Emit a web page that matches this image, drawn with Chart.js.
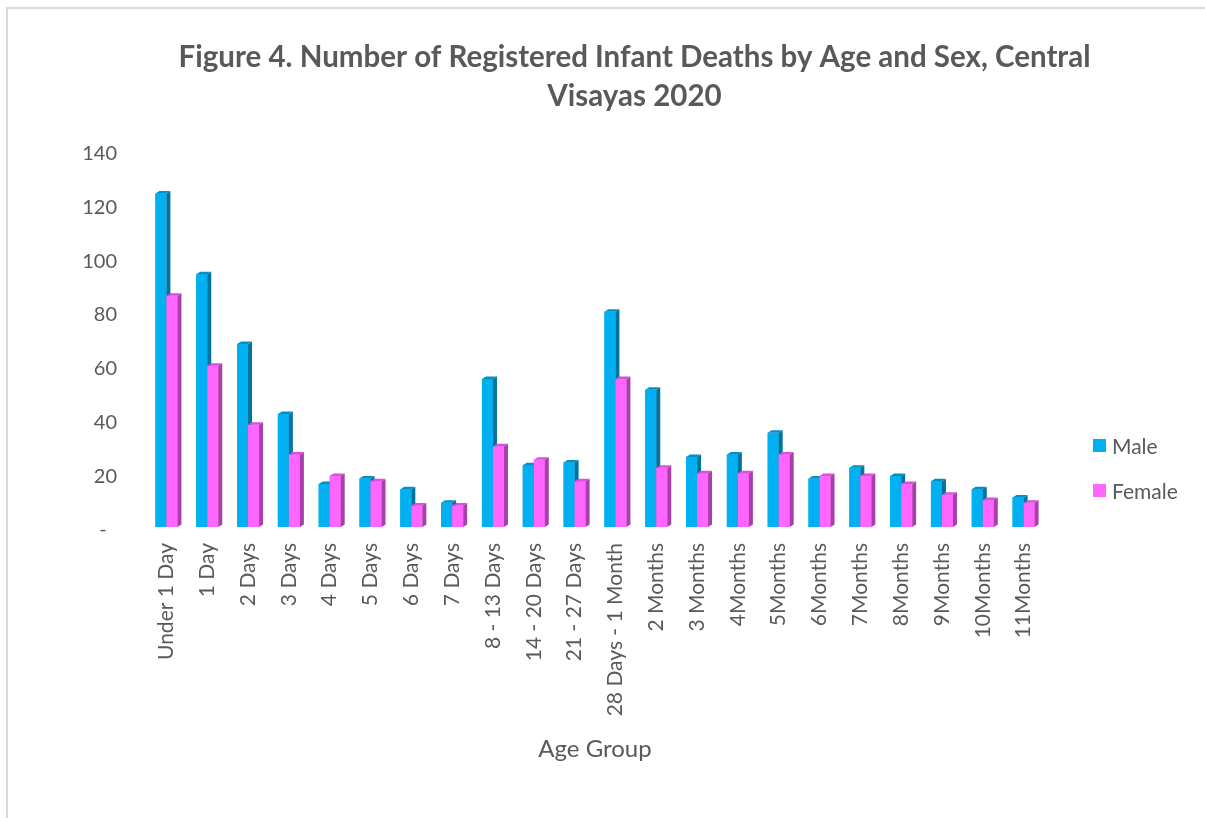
<!DOCTYPE html>
<html>
<head>
<meta charset="utf-8">
<script src="https://cdn.jsdelivr.net/npm/chart.js@4/dist/chart.umd.min.js"></script>
<style>
  html, body { margin: 0; padding: 0; background: #ffffff; overflow: hidden; }
  #frame { position: absolute; left: 6px; top: 7px; width: 1400px; height: 1000px;
           border-left: 2px solid #d9d9d9; border-top: 2px solid #d9d9d9; }
  #wrap { position: absolute; left: 0; top: 0; width: 1205px; height: 818px; }
  #legend { position: absolute; left: 1093px; top: 433px; font-family: Lato, "Open Sans", sans-serif;
            font-size: 21px; color: #595959; }
  #legend .item { display: flex; align-items: center; height: 24px; margin-bottom: 21px; }
  #legend .box { width: 13px; height: 13px; margin-right: 6px; }
</style>
</head>
<body>
<div id="frame"></div>
<div id="wrap"><canvas id="c" width="1205" height="818"></canvas></div>
<div id="legend"></div>
<script>
const titleLines = ["Figure 4. Number of Registered Infant Deaths by Age and Sex, Central", "Visayas 2020"];
const categories = ["Under 1 Day", "1 Day", "2 Days", "3 Days", "4 Days", "5 Days", "6 Days", "7 Days",
  "8 - 13 Days", "14 - 20 Days", "21 - 27 Days", "28 Days - 1 Month", "2 Months", "3 Months",
  "4Months", "5Months", "6Months", "7Months", "8Months", "9Months", "10Months", "11Months"];
const maleValues   = [124, 94, 68, 42, 16, 18, 14, 9, 55, 23, 24, 80, 51, 26, 27, 35, 18, 22, 19, 17, 14, 11];
const femaleValues = [86, 60, 38, 27, 19, 17, 8, 8, 30, 25, 17, 55, 22, 20, 20, 27, 19, 19, 16, 12, 10, 9];
const yTicks = [0, 20, 40, 60, 80, 100, 120, 140];
const seriesNames = ["Male", "Female"];
const seriesColors = ["#00B0F0", "#FF66FF"];
const sideColors = ["#00739E", "#A83FAB"];
const topColors = ["#0090C4", "#D94FDC"];
const xTitle = "Age Group";

const textColor = "#595959";
const fontFam = "Lato, 'Open Sans', sans-serif";

const bar3d = {
  id: 'bar3d',
  afterDatasetsDraw(chart) {
    const ctx = chart.ctx;
    const d = 4, h = 2.5;
    ctx.save();
    chart.data.datasets.forEach((ds, idx) => {
      const meta = chart.getDatasetMeta(idx);
      meta.data.forEach(el => {
        const p = el.getProps(['x', 'y', 'base', 'width'], true);
        const l = p.x - p.width / 2, r = p.x + p.width / 2;
        ctx.fillStyle = seriesColors[idx];
        ctx.fillRect(l, p.y, r - l, p.base - p.y);
        ctx.fillStyle = sideColors[idx];
        ctx.beginPath();
        ctx.moveTo(r, p.y); ctx.lineTo(r + d, p.y - h); ctx.lineTo(r + d, p.base - h); ctx.lineTo(r, p.base);
        ctx.closePath(); ctx.fill();
        ctx.fillStyle = topColors[idx];
        ctx.beginPath();
        ctx.moveTo(l, p.y); ctx.lineTo(l + d, p.y - h); ctx.lineTo(r + d, p.y - h); ctx.lineTo(r, p.y);
        ctx.closePath(); ctx.fill();
      });
    });
    ctx.restore();
  }
};

const chart = new Chart(document.getElementById('c'), {
  type: 'bar',
  data: {
    labels: categories,
    datasets: [
      { label: seriesNames[0], data: maleValues, backgroundColor: seriesColors[0],
        barPercentage: 1, categoryPercentage: 0.54 },
      { label: seriesNames[1], data: femaleValues, backgroundColor: seriesColors[1],
        barPercentage: 1, categoryPercentage: 0.54 }
    ]
  },
  options: {
    responsive: false,
    animation: false,
    devicePixelRatio: 1,
    layout: { padding: { left: 64, right: 0, top: 0, bottom: 0 } },
    plugins: {
      legend: { display: false },
      tooltip: { enabled: false },
      title: {
        display: true, text: titleLines, color: textColor,
        font: { family: fontFam, size: 29.5, weight: 'bold', lineHeight: 1.33 },
        padding: { top: 38, bottom: 34 }
      }
    },
    scales: {
      x: {
        grid: { display: false, drawTicks: false },
        border: { display: false },
        ticks: { autoSkip: false, maxRotation: 90, minRotation: 90, color: textColor, padding: 16,
                 font: { family: fontFam, size: 21 } },
        title: { display: true, text: xTitle, color: textColor, font: { family: fontFam, size: 24 },
                 padding: { top: 0, bottom: 54 } },
        afterFit(s) { s.height = 291; }
      },
      y: {
        min: 0, max: 140,
        grid: { display: false, drawTicks: false },
        border: { display: false },
        afterBuildTicks(s) { s.ticks = yTicks.map(v => ({ value: v })); },
        ticks: { color: textColor, padding: 29, labelOffset: 3, font: { family: fontFam, size: 20 },
                 callback: v => v === 0 ? '-  ' : v },
        afterFit(s) { s.width = 82; }
      },
      yRight: {
        position: 'right', display: true,
        grid: { display: false, drawTicks: false }, border: { display: false },
        ticks: { display: false },
        afterFit(s) { s.width = 161; }
      }
    }
  },
  plugins: [bar3d]
});

const lg = document.getElementById('legend');
seriesNames.forEach((n, i) => {
  const it = document.createElement('div'); it.className = 'item';
  const b = document.createElement('span'); b.className = 'box'; b.style.background = seriesColors[i];
  const t = document.createElement('span'); t.textContent = n;
  it.appendChild(b); it.appendChild(t); lg.appendChild(it);
});
</script>
</body>
</html>
